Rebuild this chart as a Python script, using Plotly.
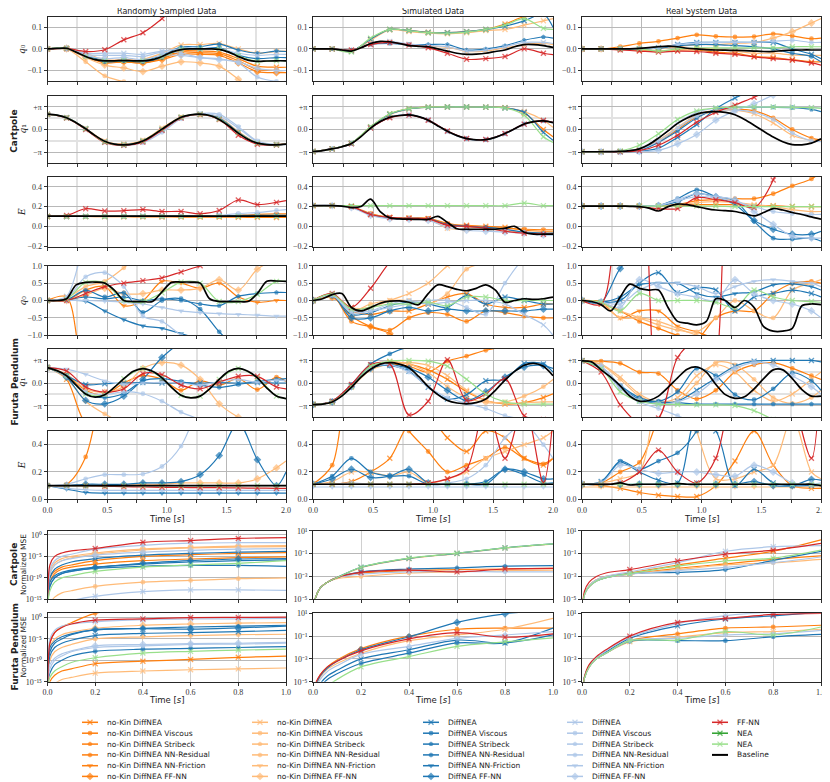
import numpy as np
import plotly.graph_objects as go

W, H = 830, 782
OFF = 8  # the page body margin shifts the figure by this many pixels
FW, FH = W - OFF, H - OFF

# time grids (seconds)
T = [0.0, 0.16, 0.32, 0.48, 0.64, 0.80, 0.96, 1.12, 1.28, 1.44, 1.60, 1.76, 1.92, 2.0]
TB = [0.0, 0.08, 0.16, 0.24, 0.32, 0.40, 0.48, 0.56, 0.64, 0.72, 0.80, 0.88, 0.96,
      1.04, 1.12, 1.20, 1.28, 1.36, 1.44, 1.52, 1.60, 1.68, 1.76, 1.84, 1.92, 2.0]
TM = [0.002, 0.01, 0.03, 0.06, 0.1, 0.2, 0.4, 0.6, 0.8, 1.0]

# ---------------- Cartpole, randomly sampled data ----------------
cp_rand_q0_base = [0, 0.002, 0.003, -0.015, -0.035, -0.05, -0.055, -0.055, -0.054, -0.055, -0.055, -0.05, -0.035,
                   -0.015, -0.003, 0.0, 0.0, 0.0, -0.002, -0.015, -0.035, -0.052, -0.058, -0.056, -0.055, -0.055]
cp_rand_q0_ffnn = [0, 0.002, -0.012, -0.004, 0.042, 0.075, 0.14, 0.22, 0.3, 0.38, 0.45, 0.5, 0.55, 0.57]
cp_rand_q0_kin_x = [0, 0.002, -0.03, -0.055, -0.055, -0.06, -0.04, -0.01, -0.01, -0.015, -0.045, -0.08, -0.085, -0.085]
cp_rand_q0_kin_visc = [0, 0.002, -0.032, -0.06, -0.06, -0.065, -0.045, -0.015, -0.018, -0.022, -0.055, -0.095, -0.1, -0.1]
cp_rand_q0_kin_ff = [0, 0.002, -0.035, -0.065, -0.06, -0.065, -0.05, -0.025, -0.025, -0.03, -0.065, -0.105, -0.11, -0.11]
cp_rand_q0_lkin_x = [0, 0.001, -0.02, -0.05, -0.05, -0.048, -0.02, 0.018, 0.02, 0.025, 0.0, -0.02, -0.012, -0.01]
cp_rand_q0_lkin_visc = [0, 0.0, -0.06, -0.125, -0.152, -0.18, -0.2, -0.22, -0.24, -0.26, -0.28, -0.3, -0.32, -0.33]
cp_rand_q0_lkin_ff = [0, 0.0, -0.04, -0.075, -0.088, -0.105, -0.08, -0.06, -0.065, -0.08, -0.14, -0.2, -0.25, -0.27]
cp_rand_q0_diff_strib = [0, 0.002, -0.03, -0.055, -0.052, -0.055, -0.03, 0.008, 0.01, 0.022, -0.005, -0.02, -0.01, -0.012]
cp_rand_q0_diff_visc = [0, 0.002, -0.03, -0.06, -0.055, -0.06, -0.04, 0.0, 0.0, 0.005, -0.03, -0.045, -0.04, -0.04]
cp_rand_q0_ldiff_x = [0, 0.002, -0.02, -0.02, -0.02, -0.025, -0.01, 0.0, -0.002, 0.0, -0.02, -0.03, -0.025, -0.025]
cp_rand_q0_ldiff_visc = [0, 0.002, -0.025, -0.03, -0.03, -0.035, -0.015, -0.02, -0.04, -0.045, -0.065, -0.13, -0.15, -0.15]
cp_rand_q0_ldiff_ff = [0, 0.002, -0.03, -0.045, -0.04, -0.05, -0.03, -0.03, -0.04, -0.05, -0.06, -0.09, -0.1, -0.1]
cp_rand_q0_lnea = [0, 0.003, -0.035, -0.056, -0.054, -0.056, -0.038, -0.002, 0.0, 0.0, -0.032, -0.058, -0.055, -0.055]

cp_rand_q1_base = [2.13, 2.0, 1.65, 0.95, 0.1, -0.85, -1.65, -2.05, -2.13, -2.0, -1.6, -0.85, 0.05,
                   0.95, 1.7, 2.05, 2.13, 1.95, 1.4, 0.5, -0.5, -1.35, -1.9, -2.1, -2.13, -2.05]
cp_rand_q1_ffnn = [2.13, 1.6, 0.0, -1.8, -2.2, -1.75, -0.1, 1.6, 2.1, 1.4, -0.8, -2.05, -2.15, -2.05]
cp_rand_q1_lkin_x = [2.13, 1.65, 0.15, -1.6, -2.0, -1.5, 0.2, 1.75, 2.1, 1.7, -0.3, -1.9, -2.1, -2.0]
cp_rand_q1_ldiff_visc = [2.13, 1.65, 0.05, -1.75, -2.2, -1.85, -0.4, 1.5, 2.2, 2.1, 0.4, -1.6, -2.1, -2.1]
cp_rand_q1_ldiff_x = [2.13, 1.65, 0.1, -1.7, -2.1, -1.7, -0.15, 1.65, 2.15, 1.85, 0.2, -1.7, -2.1, -2.05]
cp_rand_q1_diff_x = [2.13, 1.65, 0.1, -1.72, -2.12, -1.65, 0.0, 1.68, 2.12, 1.6, -0.4, -1.9, -2.12, -2.05]
cp_rand_q1_kin_visc = [2.13, 1.64, 0.1, -1.7, -2.1, -1.6, 0.05, 1.68, 2.1, 1.45, -0.4, -1.88, -2.1, -2.0]
cp_rand_q1_lnea = [2.13, 1.65, 0.1, -1.73, -2.13, -1.6, 0.05, 1.7, 2.13, 1.45, -0.45, -1.9, -2.13, -2.05]

cp_rand_E_base = [0.103, 0.103, 0.103, 0.103, 0.103, 0.103, 0.103, 0.103, 0.103, 0.103, 0.103, 0.103, 0.103,
                  0.103, 0.103, 0.103, 0.103, 0.103, 0.103, 0.103, 0.103, 0.103, 0.103, 0.103, 0.103, 0.103]
cp_rand_E_ffnn = [0.1, 0.11, 0.178, 0.155, 0.158, 0.17, 0.15, 0.15, 0.127, 0.16, 0.267, 0.22, 0.243, 0.26]
cp_rand_E_kin_x = [0.1, 0.1, 0.1, 0.098, 0.097, 0.096, 0.095, 0.094, 0.093, 0.093, 0.092, 0.091, 0.09, 0.09]
cp_rand_E_kin_visc = [0.1, 0.1, 0.1, 0.1, 0.1, 0.1, 0.1, 0.1, 0.1, 0.1, 0.11, 0.12, 0.125, 0.125]
cp_rand_E_lkin_x = [0.1, 0.1, 0.1, 0.1, 0.1, 0.1, 0.1, 0.1, 0.1, 0.1, 0.105, 0.11, 0.115, 0.115]
cp_rand_E_ldiff_visc = [0.1, 0.1, 0.1, 0.1, 0.1, 0.1, 0.1, 0.1, 0.105, 0.11, 0.13, 0.14, 0.16, 0.17]
cp_rand_E_diff_x = [0.1, 0.1, 0.101, 0.101, 0.102, 0.103, 0.104, 0.105, 0.106, 0.107, 0.11, 0.11, 0.11, 0.11]
cp_rand_E_lnea = [0.1, 0.1, 0.1, 0.1, 0.1, 0.1, 0.1, 0.1, 0.1, 0.1, 0.1, 0.1, 0.1, 0.1]

# ---------------- Cartpole, simulated data ----------------
cp_sim_q0_base = [0, 0, 0.0, -0.005, -0.01, 0.005, 0.025, 0.035, 0.033, 0.025, 0.015, 0.012, 0.01,
                  0.0, -0.01, -0.02, -0.025, -0.024, -0.02, -0.012, -0.005, 0.01, 0.02, 0.02, 0.015, 0.007]
cp_sim_q0_ffnn = [0, 0, -0.005, 0.02, 0.03, 0.018, 0.005, -0.02, -0.048, -0.045, -0.035, 0.0, -0.02, -0.027]
cp_sim_q0_lnea = [0, 0, -0.015, 0.05, 0.09, 0.085, 0.075, 0.073, 0.078, 0.09, 0.11, 0.14, 0.095, 0.09]
cp_sim_q0_kin_x = [0, 0, -0.01, 0.045, 0.09, 0.085, 0.077, 0.075, 0.08, 0.09, 0.115, 0.15, 0.17, 0.16]
cp_sim_q0_lkin_x = [0, 0, -0.01, 0.04, 0.088, 0.08, 0.073, 0.07, 0.075, 0.085, 0.09, 0.11, 0.13, 0.14]
cp_sim_q0_diff_x = [0, 0, -0.01, 0.045, 0.09, 0.085, 0.076, 0.075, 0.08, 0.09, 0.105, 0.13, 0.16, 0.1]
cp_sim_q0_diff_strib = [0, 0, -0.005, 0.02, 0.025, 0.02, 0.02, 0.02, -0.005, 0.0, 0.015, 0.04, 0.055, 0.05]
cp_sim_q0_ldiff_x = [0, 0, -0.008, 0.025, 0.035, 0.022, 0.015, 0.01, -0.01, -0.005, 0.01, 0.03, 0.03, 0.025]
cp_sim_q0_lkin_visc = [0, 0, -0.008, 0.025, 0.032, 0.02, 0.012, 0.008, -0.012, -0.01, 0.005, 0.02, 0.025, 0.02]

cp_sim_q1_base = [-3.07, -2.95, -2.7, -2.4, -1.95, -1.0, 0.2, 1.1, 1.7, 1.95, 2.03, 1.8, 1.3,
                  0.5, -0.25, -0.85, -1.27, -1.45, -1.42, -1.1, -0.57, 0.1, 0.76, 1.1, 1.2, 0.95]
cp_sim_q1_lnea = [-3.07, -2.7, -1.9, 0.4, 2.2, 2.9, 3.12, 3.14, 3.14, 3.12, 3.0, 2.0, -1.0, -1.8]
cp_sim_q1_kin_x = [-3.07, -2.7, -1.9, 0.35, 2.15, 2.9, 3.12, 3.14, 3.14, 3.12, 3.05, 2.3, 0.0, -1.0]
cp_sim_q1_lkin_x = [-3.07, -2.7, -1.92, 0.3, 2.1, 2.85, 3.1, 3.14, 3.14, 3.12, 3.05, 2.5, 1.3, 0.3]
cp_sim_q1_diff_x = [-3.07, -2.7, -1.92, 0.32, 2.12, 2.88, 3.1, 3.14, 3.14, 3.12, 3.0, 2.4, -0.4, -1.5]
cp_sim_q1_ffnn = [-3.07, -2.7, -1.98, 0.2, 1.65, 2.0, 1.3, -0.2, -1.25, -1.4, -0.55, 0.75, 1.25, 1.0]
cp_sim_q1_ldiff_x = [-3.07, -2.7, -1.98, 0.25, 1.72, 2.02, 1.35, -0.3, -1.3, -1.4, -0.6, 0.7, 1.25, 0.95]
cp_sim_q1_diff_strib = [-3.07, -2.7, -1.97, 0.22, 1.7, 2.03, 1.3, -0.24, -1.27, -1.42, -0.58, 0.78, 1.22, 0.98]

cp_sim_E_base = [0.21, 0.21, 0.21, 0.205, 0.19, 0.2, 0.275, 0.15, 0.085, 0.075, 0.072, 0.07, 0.07,
                 0.1, 0.04, -0.025, -0.03, -0.03, -0.03, -0.03, -0.02, 0.0, -0.06, -0.08, -0.08, -0.08]
cp_sim_E_lnea = [0.21, 0.21, 0.21, 0.21, 0.21, 0.21, 0.21, 0.21, 0.21, 0.21, 0.21, 0.235, 0.21, 0.21]
cp_sim_E_kin_visc = [0.21, 0.21, 0.2, 0.13, 0.09, 0.085, 0.08, 0.03, 0.0, -0.01, -0.02, -0.03, -0.035, -0.035]
cp_sim_E_kin_x = [0.21, 0.21, 0.2, 0.12, 0.09, 0.085, 0.08, 0.02, 0.01, 0.0, -0.01, -0.04, -0.05, -0.05]
cp_sim_E_ffnn = [0.21, 0.21, 0.2, 0.12, 0.09, 0.08, 0.075, 0.01, 0.0, -0.02, -0.05, -0.07, -0.08, -0.08]
cp_sim_E_ldiff_ff = [0.21, 0.21, 0.19, 0.11, 0.075, 0.07, 0.06, -0.01, -0.04, -0.05, -0.06, -0.07, -0.09, -0.09]
cp_sim_E_lkin_x = [0.21, 0.21, 0.2, 0.12, 0.09, 0.085, 0.075, -0.02, -0.03, -0.03, -0.04, -0.06, -0.06, -0.06]
cp_sim_E_diff_strib = [0.21, 0.21, 0.2, 0.12, 0.085, 0.08, 0.075, 0.02, 0.0, -0.01, -0.03, -0.06, -0.07, -0.07]

# ---------------- Cartpole, real system data ----------------
cp_real_q0_base = [0, 0, 0, 0, 0, 0, 0.002, 0.006, 0.01, 0.013, 0.01, 0.003, 0.0,
                   -0.003, -0.005, -0.006, -0.007, -0.008, -0.01, -0.012, -0.012, -0.008, -0.006, -0.005, -0.005, -0.005]
cp_real_q0_kin_visc = [0, 0, 0.01, 0.025, 0.035, 0.05, 0.065, 0.058, 0.055, 0.057, 0.07, 0.06, 0.047, 0.05]
cp_real_q0_lkin_ff = [0, 0, 0.0, 0.0, 0.002, 0.01, 0.02, 0.02, 0.025, 0.03, 0.05, 0.08, 0.12, 0.14]
cp_real_q0_ffnn = [0, 0, -0.005, -0.01, -0.015, -0.01, -0.012, -0.02, -0.025, -0.037, -0.045, -0.052, -0.065, -0.075]
cp_real_q0_kin_x = [0, 0, 0, -0.005, -0.01, -0.005, -0.005, -0.015, -0.02, -0.035, -0.04, -0.05, -0.06, -0.06]
cp_real_q0_diff_x = [0, 0, 0, 0, 0.005, 0.02, 0.03, 0.03, 0.03, 0.03, 0.03, 0.0, -0.025, -0.045]
cp_real_q0_diff_visc = [0, 0, 0, 0, 0.003, 0.015, 0.02, 0.02, 0.015, 0.01, 0.0, -0.02, -0.035, -0.06]
cp_real_q0_ldiff_visc = [0, 0, 0, 0, 0.005, 0.02, 0.028, 0.03, 0.03, 0.03, 0.035, 0.04, 0.03, 0.03]
cp_real_q0_lkin_x = [0, 0, 0, -0.008, -0.01, -0.005, 0.0, 0.0, -0.01, -0.02, -0.02, -0.028, -0.03, -0.03]
cp_real_q0_lnea = [0, 0, 0, 0, -0.01, 0.0, 0.005, 0.005, 0.005, 0.005, 0.005, 0.01, 0.01, 0.01]

cp_real_q1_base = [-3.1, -3.1, -3.1, -3.08, -3.05, -2.95, -2.7, -2.1, -1.2, -0.2, 0.85, 1.6, 2.15,
                   2.42, 2.5, 2.38, 2.05, 1.4, 0.6, -0.25, -1.05, -1.7, -2.1, -2.13, -1.9, -1.3]
cp_real_q1_lnea = [-3.1, -3.1, -3.0, -2.2, -0.6, 1.4, 2.6, 3.0, 3.12, 3.14, 3.13, 3.1, 3.05, 2.95]
cp_real_q1_ffnn = [-3.1, -3.1, -3.1, -2.95, -2.2, -0.8, 1.0, 2.4, 3.4, 4.5, 5.5, 6.0, 6.5, 6.5]
cp_real_q1_diff_x = [-3.1, -3.1, -3.1, -3.05, -2.6, -1.1, 0.7, 2.9, 4.4, 5.5, 6.0, 6.5, 6.5, 6.5]
cp_real_q1_diff_strib = [-3.1, -3.1, -3.1, -2.9, -1.8, -0.2, 1.6, 2.8, 3.1, 3.1, 3.1, 3.05, 2.8, 2.5]
cp_real_q1_ldiff_ff = [-3.1, -3.1, -3.1, -3.08, -2.9, -2.0, -0.7, 1.3, 2.6, 3.6, 4.8, 6.0, 6.5, 6.5]
cp_real_q1_kin_visc = [-3.1, -3.1, -3.1, -2.9, -1.7, 0.0, 1.8, 2.6, 2.8, 2.6, 1.6, 0.0, -1.2, -1.45]
cp_real_q1_lkin_x = [-3.1, -3.1, -3.05, -2.8, -1.5, 0.3, 2.0, 2.7, 2.7, 2.2, 0.9, -0.8, -1.5, -1.6]
cp_real_q1_ldiff_x = [-3.1, -3.1, -3.05, -2.7, -1.2, 0.9, 2.4, 3.0, 3.14, 3.14, 3.14, 3.12, 3.05, 3.0]
cp_real_q1_ldiff_visc = [-3.1, -3.1, -3.05, -2.8, -1.6, 0.2, 1.9, 2.6, 2.7, 2.4, 1.4, -0.5, -1.6, -1.7]

cp_real_E_base = [0.205, 0.205, 0.205, 0.205, 0.205, 0.203, 0.2, 0.185, 0.155, 0.2, 0.225, 0.22, 0.2,
                  0.18, 0.165, 0.158, 0.15, 0.13, 0.105, 0.14, 0.18, 0.165, 0.14, 0.12, 0.095, 0.072]
cp_real_E_lnea = [0.205, 0.205, 0.205, 0.205, 0.205, 0.205, 0.205, 0.205, 0.2, 0.2, 0.2, 0.2, 0.2, 0.2]
cp_real_E_ffnn = [0.205, 0.205, 0.205, 0.2, 0.18, 0.18, 0.29, 0.27, 0.24, 0.19, 0.47, 1.2, 1.6, 1.8]
cp_real_E_kin_visc = [0.205, 0.205, 0.205, 0.205, 0.21, 0.22, 0.26, 0.27, 0.28, 0.28, 0.33, 0.41, 0.48, 0.55]
cp_real_E_kin_x = [0.205, 0.205, 0.205, 0.205, 0.205, 0.21, 0.22, 0.22, 0.22, 0.21, 0.21, 0.2, 0.2, 0.2]
cp_real_E_diff_visc = [0.205, 0.205, 0.205, 0.205, 0.21, 0.28, 0.37, 0.3, 0.22, 0.05, -0.12, -0.13, -0.12, -0.15]
cp_real_E_diff_ff = [0.205, 0.205, 0.205, 0.205, 0.21, 0.25, 0.33, 0.3, 0.26, 0.06, -0.03, -0.08, -0.08, -0.05]
cp_real_E_ldiff_ff = [0.205, 0.205, 0.205, 0.205, 0.21, 0.27, 0.33, 0.3, 0.27, 0.15, 0.02, -0.1, -0.12, -0.12]
cp_real_E_ldiff_visc = [0.205, 0.205, 0.205, 0.205, 0.21, 0.26, 0.3, 0.29, 0.25, 0.2, 0.15, 0.13, 0.12, 0.12]
cp_real_E_lkin_x = [0.205, 0.205, 0.205, 0.205, 0.205, 0.22, 0.24, 0.25, 0.24, 0.22, 0.2, 0.17, 0.15, 0.15]

# ---------------- Furuta pendulum, randomly sampled data ----------------
fp_rand_q0_base = [0, 0, 0.05, 0.45, 0.52, 0.53, 0.5, 0.3, 0.0, -0.03, -0.03, -0.03, 0.25,
                   0.52, 0.53, 0.53, 0.5, 0.05, -0.03, -0.03, -0.03, -0.03, 0.2, 0.55, 0.56, 0.55]
fp_rand_q0_lnea = [0, 0.04, 0.52, 0.5, 0.0, -0.03, 0.22, 0.53, 0.5, -0.03, -0.03, 0.18, 0.55, 0.55]
fp_rand_q0_ffnn = [0, 0.0, 0.2, 0.4, 0.5, 0.57, 0.65, 0.82, 1.0, 1.2, 1.4, 1.6, 1.8, 1.9]
fp_rand_q0_ldiff_visc = [0, 0.05, 0.68, 0.8, 0.4, -0.45, -0.6, -1.0, -1.3, -1.5, -1.6, -1.7, -1.8, -1.8]
fp_rand_q0_ldiff_x = [0, 0.12, 1.6, 2.0, 2.0, 2.0, 2.0, 2.0, 2.0, 2.0, 2.0, 2.0, 2.0, 2.0]
fp_rand_q0_kin_x = [0, 0.1, -2.2, -2.5, -2.5, -2.5, -2.5, -2.5, -2.5, -2.5, -2.5, -2.5, -2.5, -2.5]
fp_rand_q0_diff_fric = [0, 0.0, -0.02, -0.3, -0.55, -0.73, -0.8, -0.95, -1.1, -1.2, -1.3, -1.4, -1.5, -1.5]
fp_rand_q0_diff_visc = [0, 0.02, 0.29, 0.1, 0.22, -0.34, 0.0, 0.05, -0.25, -0.9, -1.4, -1.6, -1.7, -1.7]
fp_rand_q0_diff_strib = [0, 0.02, 0.1, 0.05, 0.1, 0.0, 0.05, 0.0, -0.1, -0.15, 0.12, 0.2, 0.23, 0.23]
fp_rand_q0_kin_fric = [0, 0.0, 0.3, 0.4, -0.15, 0.0, 0.55, 0.5, 0.35, 0.5, 0.1, -0.05, 0.0, 0.0]
fp_rand_q0_lkin_visc = [0, 0.08, 0.4, 0.55, 0.94, 1.4, 1.6, 1.6, 1.6, 1.6, 1.6, 1.6, 1.6, 1.6]
fp_rand_q0_lkin_ff = [0, 0.0, 0.15, 0.35, 0.2, 0.2, 0.3, 0.3, 0.35, 0.6, 0.3, 0.9, 1.2, 1.3]
fp_rand_q0_ldiff_fric = [0, 0.0, 0.0, -0.02, -0.05, -0.1, -0.2, -0.3, -0.35, -0.38, -0.4, -0.42, -0.45, -0.45]

fp_rand_q1_base = [2.12, 1.7, 1.0, -0.3, -1.5, -1.95, -1.6, -0.6, 0.6, 1.6, 1.98, 1.6, 0.7,
                   -0.6, -1.7, -2.05, -1.8, -0.8, 0.5, 1.6, 2.0, 1.6, 0.7, -0.7, -1.8, -2.15]
fp_rand_q1_lnea = [2.12, 1.0, -1.5, -1.6, 0.6, 1.98, 0.7, -1.7, -1.8, 0.5, 2.0, 0.7, -1.8, -2.15]
fp_rand_q1_ffnn = [2.12, 1.66, -0.55, -1.25, -0.8, 1.29, 1.15, -0.3, -0.8, 0.14, 0.92, 0.92, -0.55, -0.8]
fp_rand_q1_ldiff_fric = [2.12, 1.9, 1.2, 0.3, -0.2, 0.0, 0.1, 0.0, -0.3, 0.2, 0.5, 0.1, 0.4, 0.3]
fp_rand_q1_ldiff_visc = [2.12, 0.9, -1.2, -1.6, -1.2, -1.48, -2.5, -4.0, -5.0, -6.0, -6.0, -6.0, -6.0, -6.0]
fp_rand_q1_diff_x = [2.12, 1.0, -0.2, -0.1, 0.0, 0.05, 0.0, 0.05, 0.0, 0.05, 0.0, 0.05, 0.0, 0.0]
fp_rand_q1_diff_ff = [2.12, 0.8, -2.4, -2.86, -1.8, 0.5, 3.5, 5.5, 6.0, 6.0, 6.0, 6.0, 6.0, 6.0]
fp_rand_q1_diff_visc = [2.12, 1.0, -1.4, -2.0, -1.4, 0.3, 0.6, 0.2, -0.3, -0.6, -0.2, 0.2, 0.5, 0.6]
fp_rand_q1_kin_x = [2.12, 0.5, -5.5, -6, -6, -6, -6, -6, -6, -6, -6, -6, -6, -6]
fp_rand_q1_kin_visc = [2.12, 1.1, -1.0, -1.6, 0.0, 1.0, 0.5, -1.0, 0.3, -0.3, 0.6, -0.9, 0.8, 0.2]
fp_rand_q1_lkin_ff = [2.12, 1.2, -0.8, -1.3, -0.5, 2.0, 2.8, 2.45, 0.5, -2.86, -4.7, -6, -6, -6]
fp_rand_q1_lkin_visc = [2.12, 0.6, -2.5, -4.25, -5.5, -6, -6, -6, -6, -6, -6, -6, -6, -6]

fp_rand_E_base = [0.1, 0.1, 0.1, 0.1, 0.1, 0.1, 0.1, 0.1, 0.1, 0.1, 0.1, 0.1, 0.1,
                  0.1, 0.1, 0.1, 0.1, 0.1, 0.1, 0.1, 0.1, 0.1, 0.1, 0.1, 0.1, 0.1]
fp_rand_E_kin_visc = [0.1, 0.11, 0.31, 0.9, 1.2, 1.2, 1.2, 1.2, 1.2, 1.2, 1.2, 1.2, 1.2, 1.2]
fp_rand_E_ldiff_visc = [0.1, 0.11, 0.15, 0.18, 0.18, 0.185, 0.24, 0.39, 0.7, 0.9, 0.9, 0.9, 0.9, 0.9]
fp_rand_E_diff_ff = [0.1, 0.1, 0.11, 0.11, 0.11, 0.12, 0.12, 0.13, 0.18, 0.32, 0.56, 0.29, 0.1, 0.2]
fp_rand_E_lkin_ff = [0.1, 0.1, 0.1, 0.1, 0.1, 0.11, 0.11, 0.12, 0.12, 0.12, 0.12, 0.15, 0.23, 0.28]
fp_rand_E_diff_fric = [0.1, 0.075, 0.05, 0.045, 0.045, 0.045, 0.045, 0.045, 0.045, 0.045, 0.045, 0.045, 0.045, 0.045]
fp_rand_E_ldiff_fric = [0.1, 0.08, 0.07, 0.065, 0.065, 0.065, 0.065, 0.065, 0.065, 0.065, 0.065, 0.065, 0.065, 0.065]
fp_rand_E_ffnn = [0.1, 0.1, 0.1, 0.095, 0.093, 0.09, 0.088, 0.087, 0.085, 0.085, 0.083, 0.082, 0.08, 0.08]
fp_rand_E_lnea = [0.1, 0.1, 0.1, 0.1, 0.1, 0.1, 0.1, 0.1, 0.1, 0.1, 0.1, 0.1, 0.1, 0.1]

# ---------------- Furuta pendulum, simulated data ----------------
fp_sim_q0_base = [0, 0.05, 0.17, 0.2, -0.2, -0.3, -0.2, -0.08, -0.02, -0.01, -0.05, -0.12, 0.2,
                  0.45, 0.4, 0.32, 0.28, 0.35, 0.45, 0.3, -0.05, 0.0, 0.05, 0.03, 0.05, 0.1]
fp_sim_q0_ffnn = [0, 0.2, -0.2, 0.35, 1.1, 1.6, 1.8, 1.8, 1.8, 1.8, 1.8, 1.8, 1.8, 1.8]
fp_sim_q0_lnea = [0, 0.18, -0.25, -0.2, -0.1, -0.1, -0.05, -0.15, 0.1, 0.1, 0.0, 0.0, 0.0, 0.0]
fp_sim_q0_diff_ff = [0, 0.15, -0.5, -0.5, -0.3, -0.2, -0.3, -0.25, -0.3, -0.3, -0.3, -0.3, -0.25, -0.25]
fp_sim_q0_kin_visc = [0, 0.15, -0.6, -0.75, -0.85, -0.5, -0.35, -0.4, -0.6, -0.3, -0.35, -0.45, -0.5, -0.5]
fp_sim_q0_kin_ff = [0, 0.1, -0.45, -0.75, -0.95, -1.3, -1.5, -1.5, -1.5, -1.5, -1.5, -1.5, -1.5, -1.5]
fp_sim_q0_kin_x = [0, 0.1, -0.3, -0.4, -0.3, -0.3, -0.1, 0.1, 0.2, -0.1, -0.2, -0.2, -0.1, -0.1]
fp_sim_q0_lkin_x = [0, 0.15, -0.2, -0.2, 0.0, 0.2, 0.5, 1.0, 1.4, 1.4, 1.4, 1.4, 1.4, 1.4]
fp_sim_q0_lkin_visc = [0, 0.18, -0.3, -0.1, 0.0, 0.0, -0.1, 0.2, 0.9, 1.1, 1.2, 1.2, 1.2, 1.2]
fp_sim_q0_ldiff_visc = [0, 0.15, -0.3, -0.3, -0.2, -0.1, 0.0, 0.0, -0.2, -0.4, 0.5, 1.2, 1.4, 1.4]
fp_sim_q0_ldiff_x = [0, 0.15, -0.35, -0.3, -0.1, 0.0, -0.1, -0.05, 0.0, 0.0, -0.1, -0.4, -0.7, -1.0]
fp_sim_q0_diff_x = [0, 0.15, -0.4, -0.35, -0.15, -0.05, -0.1, -0.2, 0.15, -0.1, 0.1, 0.0, -0.1, -0.1]

fp_sim_q1_base = [-2.96, -2.9, -2.6, -1.8, -0.6, 0.8, 1.9, 2.6, 2.8, 2.6, 2.1, 0.9, -0.5,
                  -1.6, -2.4, -2.75, -2.86, -2.7, -2.2, -1.0, 0.4, 1.6, 2.45, 2.7, 2.3, 1.0]
fp_sim_q1_lnea = [-2.96, -2.6, -0.5, 2.3, 3.0, 3.1, 3.0, 2.3, 0.5, -1.5, -2.6, -2.9, -2.9, -2.9]
fp_sim_q1_ffnn = [-2.96, -2.5, -0.2, 2.5, 2.6, -4.4, -2.5, 3.2, -2.4, -1.5, 0.6, -4.5, -5.0, -5.0]
fp_sim_q1_diff_visc = [-2.96, -2.5, -0.2, 2.6, 4.0, 5.0, 5.5, 5.5, 5.5, 5.5, 5.5, 5.5, 5.5, 5.5]
fp_sim_q1_diff_x = [-2.96, -2.55, -0.4, 2.2, 2.4, 1.6, -0.6, -2.2, -1.6, 0.3, 0.5, 2.7, 2.6, 1.5]
fp_sim_q1_diff_ff = [-2.96, -2.6, -0.5, 2.0, 2.5, 2.0, 0.8, -1.0, -2.4, -1.2, 0.8, 2.2, 2.4, 2.0]
fp_sim_q1_kin_visc = [-2.96, -2.6, -0.5, 2.0, 2.6, 2.3, 1.5, 3.0, 3.7, 4.5, 5.0, 5.5, 5.5, 5.5]
fp_sim_q1_kin_x = [-2.96, -2.6, -0.5, 2.2, 2.9, 2.6, 1.8, 0.5, -1.2, -2.4, -2.9, -2.7, -2.0, -1.5]
fp_sim_q1_lkin_x = [-2.96, -2.6, -0.6, 1.8, 2.6, 2.8, 2.4, 1.0, -1.0, -2.4, -2.8, -2.7, -2.6, -2.6]
fp_sim_q1_lkin_visc = [-2.96, -2.6, -0.6, 1.9, 2.7, 2.6, 1.4, -0.5, -2.0, -2.7, -2.6, -1.8, -0.5, 0.5]
fp_sim_q1_ldiff_visc = [-2.96, -2.6, -0.6, 2.1, 2.5, 1.5, -0.5, -2.0, -2.8, -3.5, -4.5, -5.0, -5.5, -5.5]

fp_sim_E_base = [0.11, 0.11, 0.11, 0.11, 0.11, 0.11, 0.11, 0.11, 0.11, 0.11, 0.11, 0.11, 0.11,
                 0.11, 0.11, 0.11, 0.11, 0.11, 0.11, 0.11, 0.11, 0.11, 0.11, 0.11, 0.11, 0.11]
fp_sim_E_ffnn = [0.11, 0.11, 0.11, 0.11, 0.11, 0.11, 0.12, 0.15, 0.22, 0.7, 0.3, 0.7, 0.12,
                 0.6, 0.8, 0.13, 0.27, 0.13, 0.2, 0.7, 0.3, 0.3, 0.5, 0.25, 0.28, 0.25]
fp_sim_E_kin_visc = [0.11, 0.25, 0.9, 0.9, 0.7, 0.5, 0.35, 0.2, 0.25, 0.3, 0.38, 0.3, 0.26, 0.3]
fp_sim_E_kin_x = [0.11, 0.11, 0.13, 0.2, 0.3, 0.55, 0.6, 0.45, 0.35, 0.5, 0.45, 0.3, 0.25, 0.3]
fp_sim_E_diff_visc = [0.11, 0.17, 0.3, 0.2, 0.17, 0.17, 0.11, 0.11, 0.11, 0.13, 0.22, 0.18, 0.12, 0.12]
fp_sim_E_diff_ff = [0.11, 0.15, 0.22, 0.16, 0.17, 0.22, 0.12, 0.11, 0.11, 0.11, 0.22, 0.2, 0.15, 0.15]
fp_sim_E_lkin_x = [0.11, 0.13, 0.2, 0.2, 0.17, 0.2, 0.12, 0.15, 0.2, 0.3, 0.35, 0.4, 0.45, 0.5]
fp_sim_E_ldiff_visc = [0.11, 0.11, 0.12, 0.11, 0.11, 0.11, 0.11, 0.12, 0.15, 0.25, 0.45, 0.55, 0.4, 0.3]
fp_sim_E_ldiff_fric = [0.09, 0.09, 0.09, 0.09, 0.09, 0.09, 0.09, 0.09, 0.09, 0.09, 0.09, 0.09, 0.09, 0.09]
fp_sim_E_lnea = [0.11, 0.11, 0.11, 0.11, 0.11, 0.11, 0.11, 0.11, 0.11, 0.11, 0.11, 0.11, 0.11, 0.11]

# ---------------- Furuta pendulum, real system data ----------------
fp_real_q0_base = [0, -0.03, -0.12, -0.3, 0.1, 0.47, 0.35, 0.3, 0.3, -0.2, -0.6, -0.65, -0.7,
                   -0.6, 0.05, 0.0, -0.2, 0.0, -0.2, -0.75, -0.88, -0.88, -0.8, -0.15, -0.1, -0.12]
fp_real_q0_lnea = [0, -0.05, -0.3, 0.2, 0.0, 0.0, 0.0, -0.05, -0.2, 0.3, 0.1, 0.0, -0.03, -0.05]
fp_real_q0_ffnn = [0, -0.1, 3.0, 4.0, -3.0, -4.0, -4.0, -2.0, 4.0, 4.0, 4.0, 4.0, 4.0, 4.0]
fp_real_q0_diff_x = [0, -0.05, 0.0, 0.5, 0.8, 0.22, 0.37, 0.3, -0.3, 0.1, 0.2, 0.3, 0.2, 0.1]
fp_real_q0_diff_fric = [0, -0.05, 0.1, 0.45, 0.5, 0.5, 0.2, 0.1, 0.2, 0.25, 0.45, 0.48, 0.4, 0.3]
fp_real_q0_diff_ff = [0, -0.05, 0.92, 1.4, 1.5, 1.5, 1.5, 1.5, 1.5, 1.5, 1.5, 1.5, 1.5, 1.5]
fp_real_q0_kin_fric = [0, -0.05, -0.5, -0.3, -0.3, -0.74, -0.9, -1.1, -1.3, -1.4, -1.4, -1.4, -1.4, -1.4]
fp_real_q0_kin_visc = [0, -0.05, -0.3, -0.6, -0.8, -1.0, -1.1, -0.5, -0.3, -0.3, 0.2, 0.49, 0.55, 0.5]
fp_real_q0_lkin_x = [0, -0.1, -0.5, -0.5, -0.6, -0.8, -1.0, -1.2, -1.3, -1.3, -1.3, -1.3, -1.3, -1.3]
fp_real_q0_lkin_visc = [0, -0.1, -0.3, -0.5, -0.7, -0.85, -0.9, -0.5, 0.0, -0.3, -0.5, 0.3, 0.5, 0.6]
fp_real_q0_ldiff_fric = [0, -0.05, -0.1, 0.3, 0.5, 0.5, 0.4, 0.2, 0.4, 0.55, 0.6, 0.55, 0.5, 0.4]
fp_real_q0_ldiff_ff = [0, -0.05, -0.2, 0.6, 0.4, 0.2, 0.1, 0.0, 0.6, 0.2, 0.0, -0.1, -0.3, -0.5]

fp_real_q1_base = [3.05, 2.9, 1.8, 0.8, -0.4, -1.8, -2.5, -2.4, -1.8, -0.6, 0.7, 1.9, 2.2,
                   1.5, -0.2, -1.6, -2.1, -1.9, -0.8, 0.6, 1.8, 1.8, 0.6, -0.9, -1.8, -1.8]
fp_real_q1_lnea = [3.05, 2.0, -1.2, -2.5, -2.9, -2.95, -3.0, -3.0, -3.1, -3.8, -5.0, -6.0, -6.0, -6.0]
fp_real_q1_ffnn = [3.05, 1.5, -3.0, -5.5, -4.8, 3.5, 6.0, 6.0, 6.0, 6.0, 6.0, 6.0, 6.0, 6.0]
fp_real_q1_diff_x = [3.05, 2.0, -0.6, -2.3, -2.8, -2.5, -1.0, 0.7, 2.3, 3.0, 3.1, 3.1, 3.1, 2.9]
fp_real_q1_diff_strib = [3.05, 2.2, -0.3, -2.0, -2.6, -2.7, -2.9, -2.9, -2.9, -2.9, -2.9, -2.9, -2.9, -2.9]
fp_real_q1_diff_visc = [3.05, 2.1, -0.5, -2.2, -2.5, -1.2, 2.0, 1.0, -1.6, -2.3, -0.8, 1.4, 0.3, -1.0]
fp_real_q1_kin_visc = [3.05, 3.0, 2.7, 1.5, 1.3, -1.0, -2.2, -1.0, 1.5, 2.5, 2.8, 2.0, 1.0, 0.5]
fp_real_q1_lkin_x = [3.05, 2.6, 0.8, -1.5, -2.6, -2.0, 1.0, 2.5, 1.5, -1.0, -2.5, -1.5, 0.5, 1.5]
fp_real_q1_lkin_visc = [3.05, 2.5, 0.5, -1.8, -2.7, -2.4, 0.0, 2.8, 2.5, 0.5, -2.0, -2.8, -2.0, -1.0]
fp_real_q1_ldiff_visc = [3.05, 2.2, -0.8, -2.6, -3.5, -4.5, -5.5, -6.0, -6.0, -6.0, -6.0, -6.0, -6.0, -6.0]
fp_real_q1_ldiff_ff = [3.05, 2.3, -0.5, -2.4, -2.9, -2.6, -1.5, 0.5, 2.0, 2.8, 2.5, 1.0, -0.5, -1.5]

fp_real_E_base = [0.11, 0.11, 0.11, 0.11, 0.12, 0.105, 0.11, 0.11, 0.11, 0.11, 0.115, 0.11, 0.11,
                  0.11, 0.11, 0.11, 0.11, 0.11, 0.11, 0.11, 0.11, 0.11, 0.11, 0.11, 0.11, 0.1]
fp_real_E_ffnn = [0.11, 0.11, 0.12, 0.2, 0.36, 0.2, 0.12, 0.3, 1.0, 1.5, 1.5, 0.8, 0.3,
                  1.0, 1.5, 1.5, 1.5, 1.5, 1.5, 1.5, 1.5, 1.5, 1.5, 1.5, 1.5, 1.5]
fp_real_E_diff_visc = [0.11, 0.12, 0.28, 0.22, 0.28, 0.34, 0.5, 0.8, 1.0, 1.0, 1.0, 1.0, 1.0, 1.0]
fp_real_E_diff_x = [0.11, 0.13, 0.27, 0.2, 0.14, 0.12, 0.6, 0.5, 0.1, 0.22, 0.12, 0.1, 0.1, 0.1]
fp_real_E_diff_ff = [0.11, 0.11, 0.11, 0.11, 0.11, 0.11, 0.11, 0.11, 0.11, 0.13, 0.1, 0.1, 0.146, 0.14]
fp_real_E_kin_visc = [0.11, 0.12, 0.2, 0.27, 0.6, 0.9, 1.0, 1.0, 1.0, 1.0, 1.0, 1.0, 1.0, 1.0]
fp_real_E_kin_x = [0.11, 0.1, 0.08, 0.05, 0.03, 0.02, 0.02, 0.1, 0.28, 0.5, 0.25, 0.1, 0.08, 0.08]
fp_real_E_lkin_x = [0.11, 0.12, 0.15, 0.2, 0.8, 1.0, 0.5, 0.15, 0.15, 0.2, 0.25, 0.6, 0.2, 0.15]
fp_real_E_lkin_fric = [0.09, 0.09, 0.09, 0.09, 0.09, 0.09, 0.09, 0.09, 0.09, 0.09, 0.09, 0.09, 0.09, 0.09]
fp_real_E_ldiff_ff = [0.11, 0.12, 0.25, 0.22, 0.19, 0.2, 0.2, 0.18, 0.17, 0.25, 0.2, 0.12, 0.11, 0.12]
fp_real_E_lnea = [0.11, 0.11, 0.11, 0.11, 0.11, 0.11, 0.11, 0.11, 0.11, 0.11, 0.11, 0.11, 0.11, 0.11]

# ---------------- normalized MSE (log10 values) on TM ----------------
cp_rand_mse_ffnn = [-16, -7, -5, -4.2, -3.7, -3.15, -1.7, -1.3, -0.8, -0.6]
cp_rand_mse_ldiff_visc = [-16, -8, -6, -5, -4.5, -3.3, -2.4, -1.9, -1.8, -1.8]
cp_rand_mse_ldiff_ff = [-16, -9, -7, -6, -5.5, -4.7, -4.0, -3.6, -3.3, -3.2]
cp_rand_mse_lkin_x = [-16, -9, -7, -6, -5.3, -4.5, -3.5, -3.0, -2.8, -2.7]
cp_rand_mse_lkin_ff = [-16, -8.5, -6.5, -5.5, -5, -4.2, -3.3, -2.9, -2.6, -2.5]
cp_rand_mse_diff_x = [-16, -10, -8, -7, -6.3, -5.5, -4.7, -4.3, -4.0, -3.8]
cp_rand_mse_kin_x = [-16, -10, -8.5, -7.5, -7, -6, -5, -4.6, -4.3, -4.1]
cp_rand_mse_kin_visc = [-16, -11, -9, -8, -7.5, -6.8, -6.0, -5.6, -5.3, -5.1]
cp_rand_mse_diff_ff = [-16, -12, -10, -9, -8.5, -7.6, -6.6, -6.0, -5.6, -5.5]
cp_rand_mse_diff_strib = [-16, -11, -9.5, -8.7, -8.2, -7.5, -6.8, -6.3, -6.0, -5.8]
cp_rand_mse_diff_visc = [-16, -12, -10, -9, -8.4, -7.8, -7.3, -7.1, -7.1, -7.3]
cp_rand_mse_lnea = [-16, -13, -11, -10, -9.5, -8.5, -7.5, -7.0, -6.6, -6.0]
cp_rand_mse_lkin_visc = [-17, -16, -14.5, -13.5, -13, -12, -11, -10.6, -10.2, -10.0]
cp_rand_mse_ldiff_x = [-20, -20, -19, -18, -15.5, -14.3, -13.2, -12.8, -12.8, -12.9]

fp_rand_mse_kin_visc = [-15, -6, -3.5, -2.2, -1.2, 1.0, 2, 2, 2, 2]
fp_rand_mse_ffnn = [-15, -6, -3.5, -2.3, -1.5, -0.6, -0.3, 0.0, 0.05, 0.1]
fp_rand_mse_ldiff_x = [-15, -5, -3, -2, -1.5, -1.0, -0.5, -0.3, -0.3, -0.2]
fp_rand_mse_lkin_ff = [-15, -7, -5, -4, -3.4, -2.5, -1.8, -1.5, -1.3, -1.2]
fp_rand_mse_diff_strib = [-15, -7, -5.5, -4.5, -3.8, -2.9, -2.5, -2.2, -2.0, -1.8]
fp_rand_mse_diff_ff = [-15, -8, -6, -5, -4, -2.8, -2.6, -2.7, -2.4, -2.0]
fp_rand_mse_diff_x = [-15, -9, -7, -6, -5.3, -4.2, -3.7, -3.5, -3.3, -3.0]
fp_rand_mse_lkin_visc = [-15, -10, -8, -7, -6.3, -5.0, -4.5, -4.2, -4.0, -3.9]
fp_rand_mse_ldiff_visc = [-15, -12, -10, -9, -8, -7.0, -6.6, -6.3, -6.2, -6.0]
fp_rand_mse_ldiff_ff = [-15, -11, -9.5, -8.5, -7.8, -6.6, -6.3, -6.1, -6.0, -5.8]
fp_rand_mse_diff_visc = [-15, -13, -11, -10, -9, -7.9, -7.4, -7.2, -7.0, -6.8]
fp_rand_mse_lnea = [-16, -14, -12.5, -11.5, -10.5, -9.4, -8.3, -7.9, -7.6, -7.4]
fp_rand_mse_kin_x = [-17, -15, -13.5, -12.5, -12, -10.8, -10.2, -9.8, -9.3, -9.0]
fp_rand_mse_lkin_x = [-20, -17, -15.5, -14.5, -14, -13, -12.5, -12.2, -12, -11.8]

cp_sim_mse_lnea = [-6, -4.9, -4.0, -3.5, -3.1, -2.2, -1.4, -0.97, -0.5, -0.15]
cp_sim_mse_lkin_x = [-6, -4.9, -4.0, -3.5, -3.1, -2.25, -1.45, -1.0, -0.52, -0.18]
cp_sim_mse_diff_x = [-6, -4.9, -4.0, -3.5, -3.1, -2.2, -1.42, -0.98, -0.5, -0.16]
cp_sim_mse_ffnn = [-6, -4.9, -4.0, -3.5, -3.1, -2.65, -2.45, -2.6, -2.35, -2.3]
cp_sim_mse_diff_strib = [-6, -4.9, -4.0, -3.5, -3.1, -2.6, -2.35, -2.25, -2.1, -2.05]
cp_sim_mse_lkin_visc = [-6, -4.9, -4.0, -3.5, -3.2, -3.0, -2.7, -2.6, -2.5, -2.45]
cp_sim_mse_ldiff_visc = [-6, -4.9, -4.0, -3.5, -3.1, -2.8, -2.6, -2.55, -2.6, -2.6]
cp_sim_mse_kin_visc = [-6, -4.9, -4.0, -3.5, -3.1, -2.7, -2.5, -2.4, -2.35, -2.3]

cp_real_mse_ffnn = [-6, -4.3, -3.5, -3.0, -2.7, -2.4, -1.65, -1.06, -0.7, -0.1]
cp_real_mse_ldiff_x = [-6, -4.5, -3.8, -3.3, -3.0, -2.6, -1.8, -0.8, -0.4, -0.3]
cp_real_mse_kin_x = [-6, -4.5, -3.8, -3.3, -3.0, -2.7, -2.0, -1.4, -0.8, 0.2]
cp_real_mse_lnea = [-6, -4.6, -3.9, -3.4, -3.1, -2.75, -2.1, -1.65, -1.4, -0.7]
cp_real_mse_diff_visc = [-6, -4.6, -3.9, -3.4, -3.1, -2.75, -2.65, -2.4, -1.6, -0.8]
cp_real_mse_ldiff_visc = [-6, -4.6, -3.9, -3.4, -3.1, -2.8, -2.5, -2.2, -1.8, -1.3]
cp_real_mse_lkin_visc = [-6, -4.6, -3.9, -3.4, -3.1, -2.8, -2.4, -2.0, -1.8, -1.5]
cp_real_mse_kin_visc = [-6, -4.6, -3.9, -3.4, -3.1, -2.8, -2.3, -1.9, -1.5, -1.2]

fp_sim_mse_diff_ff = [-7, -5.5, -4.5, -3.8, -3.2, -2.2, -1.06, 0.2, 0.95, 1.3]
fp_sim_mse_kin_visc = [-7, -5.4, -4.4, -3.7, -3.1, -2.1, -1.0, -0.4, -0.3, -0.3]
fp_sim_mse_lkin_x = [-7, -5.6, -4.6, -3.9, -3.4, -2.5, -1.4, -0.9, -0.4, 0.55]
fp_sim_mse_ffnn = [-7, -5.2, -4.4, -3.7, -3.2, -2.3, -1.25, -0.7, -1.1, -0.8]
fp_sim_mse_ldiff_visc = [-7, -5.8, -4.8, -4.1, -3.6, -2.6, -1.9, -1.2, -0.9, -0.6]
fp_sim_mse_diff_x = [-8, -6.5, -5.2, -4.5, -4.0, -3.0, -2.2, -1.35, -1.6, -0.9]
fp_sim_mse_lnea = [-9, -7.5, -6.2, -5.4, -4.8, -3.7, -2.8, -1.9, -1.5, -1.15]
fp_sim_mse_diff_visc = [-8, -6.8, -5.5, -4.8, -4.3, -3.4, -2.5, -1.6, -1.6, -0.3]

fp_real_mse_ffnn = [-6, -4.6, -3.5, -2.8, -2.2, -1.0, 0.2, 0.55, 0.9, 1.0]
fp_real_mse_ldiff_x = [-6, -4.6, -3.6, -2.9, -2.3, -1.1, 0.1, 0.8, 1.1, 1.1]
fp_real_mse_diff_x = [-6, -4.6, -3.6, -2.9, -2.4, -1.2, -0.1, 0.5, 0.78, 1.1]
fp_real_mse_kin_visc = [-6, -4.7, -3.7, -3.0, -2.5, -1.4, -0.8, -0.3, -0.2, -0.05]
fp_real_mse_lnea = [-6, -4.7, -3.7, -3.0, -2.5, -1.4, -1.35, -0.6, -0.9, -0.2]
fp_real_mse_diff_visc = [-6, -4.7, -3.7, -3.0, -2.5, -1.45, -1.4, -1.4, -1.06, -0.85]
fp_real_mse_ldiff_visc = [-6, -4.7, -3.7, -3.0, -2.5, -1.4, -1.2, -0.9, -0.8, -0.5]
fp_real_mse_lkin_x = [-6, -4.7, -3.7, -3.0, -2.5, -1.5, -1.1, -0.7, -0.6, -0.4]

# ---------------- styles ----------------
ORANGE, LORANGE, BLUE, LBLUE = '#ff7f0e', '#ffbb78', '#1f77b4', '#aec7e8'
RED, GREEN, LGREEN = '#d62728', '#2ca02c', '#98df8a'

STYLE = {}
VARIANTS = [('x', 'x-thin', ''), ('visc', 'circle', ' Viscous'), ('strib', 'pentagon', ' Stribeck'),
            ('res', 'hexagon', ' NN-Residual'), ('fric', 'triangle-down', ' NN-Friction'), ('ff', 'diamond', ' FF-NN')]
LEGEND_COLS = []
for prefix, color, label in [('kin', ORANGE, 'no-Kin DiffNEA'), ('lkin', LORANGE, 'no-Kin DiffNEA'),
                             ('diff', BLUE, 'DiffNEA'), ('ldiff', LBLUE, 'DiffNEA')]:
    col = []
    for suffix, sym, extra in VARIANTS:
        STYLE[prefix + '_' + suffix] = (color, sym)
        col.append((prefix + '_' + suffix, label + extra))
    LEGEND_COLS.append(col)
STYLE['ffnn'] = (RED, 'x-thin')
STYLE['nea'] = (GREEN, 'x-thin')
STYLE['lnea'] = (LGREEN, 'x-thin')
STYLE['base'] = ('black', None)
LEGEND_COLS.append([('ffnn', 'FF-NN'), ('nea', 'NEA'), ('lnea', 'NEA'), ('base', 'Baseline')])
DRAW_ORDER = [k for col in LEGEND_COLS for k, _ in col]


def collect(prefix, names):
    g = globals()
    out = []
    for key in names:
        xs = TB if key == 'base' else T
        out.append((key, xs, g[prefix + '_' + key]))
    return out


def collect_mse(prefix):
    g = globals()
    out = []
    for key in DRAW_ORDER:
        name = prefix + '_' + key
        if name in g:
            out.append((key, TM, [10.0 ** v for v in g[name]]))
    return out


def keys_of(prefix):
    return [k for k in DRAW_ORDER if (prefix + '_' + k) in globals()]


PANELS = {}
for r, sysname in [(1, 'cp'), (4, 'fp')]:
    for c, dname in [(1, 'rand'), (2, 'sim'), (3, 'real')]:
        for dr, var in enumerate(['q0', 'q1', 'E']):
            p = f'{sysname}_{dname}_{var}'
            PANELS[(r + dr, c)] = collect(p, keys_of(p))
for r, sysname in [(7, 'cp'), (8, 'fp')]:
    for c, dname in [(1, 'rand'), (2, 'sim'), (3, 'real')]:
        PANELS[(r, c)] = collect_mse(f'{sysname}_{dname}_mse')

# ---------------- layout geometry (page pixels) ----------------
COLX = {1: (47.5, 286), 2: (313, 553), 3: (582, 821)}
ROWY = {1: (16.5, 81.3), 2: (95.7, 163.3), 3: (177, 247), 4: (265.7, 335.3), 5: (348.7, 417.3),
        6: (431, 499.3), 7: (530.7, 599.3), 8: (613.3, 681.7)}


def px_x(p):
    return (p - OFF) / FW


def px_y(p):
    return 1 - (p - OFF) / FH


PI = np.pi
TICKFONT = dict(family='Liberation Serif', size=8, color='#333333')
GRID = '#b8b8b8'
MINOR_GRID = '#e2e2e2'
MINUS = '\u2212'


def yaxis_cfg(r, c):
    if r in (1,):
        return dict(range=[-0.15, 0.15], tickvals=[-0.1, 0, 0.1], ticktext=[MINUS + '0.1', '0.0', '0.1'])
    if r in (2, 5):
        return dict(range=[-1.5 * PI, 1.5 * PI], tickvals=[-PI, 0, PI], ticktext=[MINUS + '\u03c0', '0.0', '+\u03c0'],
                    minor=dict(tickvals=[-PI / 2, PI / 2], showgrid=True, gridcolor=MINOR_GRID, gridwidth=1.5,
                               ticks='outside', ticklen=2, tickcolor='#333'))
    if r == 3:
        return dict(range=[-0.21, 0.5], tickvals=[-0.2, 0, 0.2, 0.4], ticktext=[MINUS + '0.2', '0.0', '0.2', '0.4'])
    if r == 4:
        return dict(range=[-1, 1], tickvals=[-1, -0.5, 0, 0.5, 1],
                    ticktext=[MINUS + '1.0', MINUS + '0.5', '0.0', '0.5', '1.0'])
    if r == 6:
        return dict(range=[0, 0.5], tickvals=[0, 0.2, 0.4], ticktext=['0.0', '0.2', '0.4'])
    # MSE rows, log axes (unicode superscripts)
    if c == 1:
        return dict(type='log', range=[-15, 1], tickvals=[1e-15, 1e-10, 1e-5, 1],
                    ticktext=['10\u207b\u00b9\u2075', '10\u207b\u00b9\u2070', '10\u207b\u2075', '10\u2070'])
    return dict(type='log', range=[-5, 1], tickvals=[1e-5, 1e-3, 1e-1, 10],
                ticktext=['10\u207b\u2075', '10\u207b\u00b3', '10\u207b\u00b9', '10\u00b9'])


def xaxis_cfg(r):
    if r <= 6:
        return dict(range=[0, 2], tickvals=[0, 0.5, 1, 1.5, 2], ticktext=['0.0', '0.5', '1.0', '1.5', '2.0'],
                    showticklabels=(r == 6),
                    minor=dict(tickvals=[0.25, 0.75, 1.25, 1.75], showgrid=True, gridcolor=MINOR_GRID,
                               gridwidth=1.6, ticks='outside', ticklen=3, tickcolor='#333'))
    return dict(range=[0, 1], tickvals=[0, 0.2, 0.4, 0.6, 0.8, 1.0],
                ticktext=['0.0', '0.2', '0.4', '0.6', '0.8', '1.0'], showticklabels=(r == 8))


def axn(n, a):
    return a + 'axis' + ('' if n == 1 else str(n))


def axr(n, a):
    return a + ('' if n == 1 else str(n))


def marker_sizes(xs, step, lo, hi, size):
    out = []
    for v in xs:
        k = v / step
        on = abs(k - round(k)) < 1e-6 and lo - 1e-9 <= v <= hi + 1e-9
        out.append(size if on else 0)
    return out


SYM_SIZE = {'x-thin': 5, 'circle': 4.8, 'pentagon': 5, 'hexagon': 5, 'triangle-down': 5.5, 'diamond': 6}

fig = go.Figure()
layout = {}
for r in range(1, 9):
    for c in range(1, 4):
        n = (r - 1) * 3 + c
        x0, x1 = COLX[c]
        y0, y1 = ROWY[r]
        xa = dict(domain=[px_x(x0), px_x(x1)], anchor=axr(n, 'y'), showline=True, mirror=True, linecolor='#262626',
                  linewidth=1, ticks='outside', ticklen=3, tickcolor='#333', tickfont=TICKFONT,
                  showgrid=True, gridcolor=GRID, gridwidth=0.8, zeroline=False, fixedrange=True,
                  automargin=False)
        xa.update(xaxis_cfg(r))
        if r >= 7:
            xa.update(gridcolor='#d0d0d0', gridwidth=1.3)
        ya = dict(domain=[px_y(y1), px_y(y0)], anchor=axr(n, 'x'), showline=True, mirror=True,
                  linecolor='#262626', linewidth=1, ticks='outside', ticklen=3, tickcolor='#333',
                  tickfont=TICKFONT, showgrid=True, gridcolor=GRID, gridwidth=0.8, zeroline=False, fixedrange=True,
                  automargin=False)
        ya.update(yaxis_cfg(r, c))
        layout[axn(n, 'x')] = xa
        layout[axn(n, 'y')] = ya

        series = PANELS[(r, c)]
        series = sorted(series, key=lambda s: DRAW_ORDER.index(s[0]))
        for key, xs, ys in series:
            color, sym = STYLE[key]
            if sym is None:
                fig.add_trace(go.Scatter(x=xs, y=ys, mode='lines', line=dict(color=color, width=1.7, shape='spline',
                                                                          smoothing=0.9),
                                         xaxis=axr(n, 'x'), yaxis=axr(n, 'y'), showlegend=False, hoverinfo='skip'))
                continue
            if r <= 6:
                sizes = marker_sizes(xs, 0.16, 0.0, 1.92, SYM_SIZE[sym])
            else:
                sizes = marker_sizes(xs, 0.2, 0.2, 0.8, SYM_SIZE[sym])
            fig.add_trace(go.Scatter(
                x=xs, y=ys, mode='lines+markers',
                line=dict(color=color, width=1.2, shape='spline', smoothing=0.9),
                marker=dict(symbol=sym, size=sizes, color=color,
                            line=dict(width=1.3 if sym == 'x-thin' else 0, color=color)),
                xaxis=axr(n, 'x'), yaxis=axr(n, 'y'), showlegend=False, hoverinfo='skip'))

# legend drawn on a hidden page-pixel axis at the bottom
LEG_TOP = 702
layout['xaxis25'] = dict(domain=[0, 1], range=[OFF, W], visible=False, fixedrange=True, anchor='y25',
                         automargin=False)
layout['yaxis25'] = dict(domain=[0, px_y(LEG_TOP)], range=[H, LEG_TOP], visible=False, fixedrange=True,
                         anchor='x25', automargin=False)
LEG_X = [82, 252, 423, 567, 712]
LEG_Y = [722.3, 733.2, 744.1, 754.9, 765.7, 776.4]
annotations = []
for ci, col in enumerate(LEGEND_COLS):
    lx = LEG_X[ci]
    for ri, (key, label) in enumerate(col):
        color, sym = STYLE[key]
        ly = LEG_Y[ri]
        if sym is None:
            fig.add_trace(go.Scatter(x=[lx, lx + 16], y=[ly, ly], mode='lines', line=dict(color=color, width=2),
                                     xaxis='x25', yaxis='y25', showlegend=False, hoverinfo='skip'))
        else:
            fig.add_trace(go.Scatter(
                x=[lx, lx + 8, lx + 16], y=[ly, ly, ly], mode='lines+markers',
                line=dict(color=color, width=1.5),
                marker=dict(symbol=sym, size=[0, SYM_SIZE[sym], 0], color=color,
                            line=dict(width=1.3 if sym == 'x-thin' else 0, color=color)),
                xaxis='x25', yaxis='y25', showlegend=False, hoverinfo='skip'))
        annotations.append(dict(x=lx + 23, y=ly, xref='x25', yref='y25', text=label, showarrow=False,
                                xanchor='left', yanchor='middle',
                                font=dict(family='DejaVu Sans', size=7.5, color='#222')))

SANS = 'DejaVu Sans'


def px_ann(x, y, text, size=8.5, angle=0, family=SANS, xanchor='center'):
    annotations.append(dict(x=px_x(x), y=px_y(y), xref='paper', yref='paper', text=text, showarrow=False,
                            textangle=angle, xanchor=xanchor, yanchor='middle',
                            font=dict(family=family, size=size, color='#222')))


for c, title in [(1, 'Randomly Sampled Data'), (2, 'Simulated Data'), (3, 'Real System Data')]:
    cx = (COLX[c][0] + COLX[c][1]) / 2
    px_ann(cx, 11.5, title, size=8)
    px_ann(cx, 519, 'Time [<i>s</i>]', size=8.5)
    px_ann(cx, 700, 'Time [<i>s</i>]', size=8.5)

for r, lab in [(1, '<i>q</i>\u2080'), (2, '<i>q</i>\u2081'), (3, '<i>E</i>'),
               (4, '<i>q</i>\u2080'), (5, '<i>q</i>\u2081'), (6, '<i>E</i>')]:
    cy = (ROWY[r][0] + ROWY[r][1]) / 2
    px_ann(22, cy, lab, size=9, angle=-90, family='DejaVu Serif')

px_ann(14, (ROWY[1][0] + ROWY[3][1]) / 2, '<b>Cartpole</b>', size=9, angle=-90)
px_ann(14, (ROWY[4][0] + ROWY[6][1]) / 2, '<b>Furuta Pendulum</b>', size=9, angle=-90)
for r, name in [(7, 'Cartpole'), (8, 'Furuta Pendulum')]:
    cy = (ROWY[r][0] + ROWY[r][1]) / 2
    px_ann(14, cy, '<b>' + name + '</b>', size=9, angle=-90)
    px_ann(23, cy, 'Normalized MSE', size=7.5, angle=-90)

layout.update(width=FW, height=FH, margin=dict(l=0, r=0, t=0, b=0, autoexpand=False), paper_bgcolor='white',
              plot_bgcolor='rgba(0,0,0,0)', annotations=annotations, showlegend=False, template='none')
fig.update_layout(**layout)

fig.write_html("out.html")
